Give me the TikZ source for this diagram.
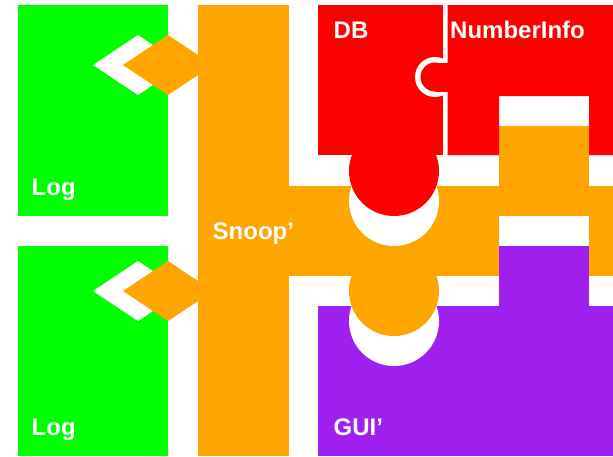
\documentclass[tikz,border=0pt]{standalone}
\usepackage{fontspec}
\setmainfont{Liberation Sans}
\definecolor{cgreen}{RGB}{0,255,0}
\definecolor{corange}{RGB}{255,165,0}
\definecolor{cred}{RGB}{255,0,0}
\definecolor{cpurple}{RGB}{160,32,240}
\begin{document}
\begin{tikzpicture}[x=1pt,y=-1pt,
  lbl/.style={text=white,font=\bfseries\fontsize{24}{28}\selectfont,inner sep=0pt,anchor=base west},
  greenpart/.style={fill=cgreen},
  orangepart/.style={fill=corange},
  redpart/.style={fill=cred},
  purplepart/.style={fill=cpurple},
  gap/.style={fill=white}]
\useasboundingbox (0,0) rectangle (613,456);
% Log boxes
\fill[greenpart] (18,5) rectangle (168,216);
\fill[greenpart] (18,246) rectangle (168,456);
\fill[gap] (93,65) -- (138,35) -- (183,65) -- (138,95) -- cycle;
\fill[gap] (93,291) -- (138,261) -- (183,291) -- (138,321) -- cycle;
% Snoop'
\fill[orangepart] (123,65) -- (168,35) -- (213,65) -- (168,95) -- cycle;
\fill[orangepart] (123,291) -- (168,261) -- (213,291) -- (168,321) -- cycle;
\fill[orangepart] (198,5) rectangle (288.5,456);
\fill[orangepart] (288,186) rectangle (499,276);
\fill[orangepart] (499,126) rectangle (589,216);
\fill[orangepart] (589,186) rectangle (613,276);
\fill[gap] (394,201) circle[radius=45];
% DB
\fill[redpart] (318,5) rectangle (443,155);
\fill[redpart] (394,171) circle[radius=45];
\fill[gap] (435,77) circle[radius=20];
% NumberInfo
\fill[redpart] (447.5,5) -- (613,5) -- (613,155) -- (589,155) -- (589,96) -- (499,96) -- (499,155) -- (447.5,155) -- cycle;
\fill[redpart] (435,77) circle[radius=14.5];
\fill[redpart] (435,62.5) rectangle (448,91.5);
% GUI'
\fill[purplepart] (318,306) rectangle (613,456);
\fill[purplepart] (499,246) rectangle (589,306);
\fill[gap] (394,321) circle[radius=45];
\fill[orangepart] (394,291) circle[radius=45];
% labels
\node[lbl] (log1) at (31.5,195) {Log};
\node[lbl] (log2) at (31.5,435) {Log};
\node[lbl] (snoop) at (212.5,239) {Snoop’};
\node[lbl] (db) at (333.5,38) {DB};
\node[lbl] (ni) at (450,38) {NumberInfo};
\node[lbl] (gui) at (333.5,435) {GUI’};
\end{tikzpicture}
\end{document}
